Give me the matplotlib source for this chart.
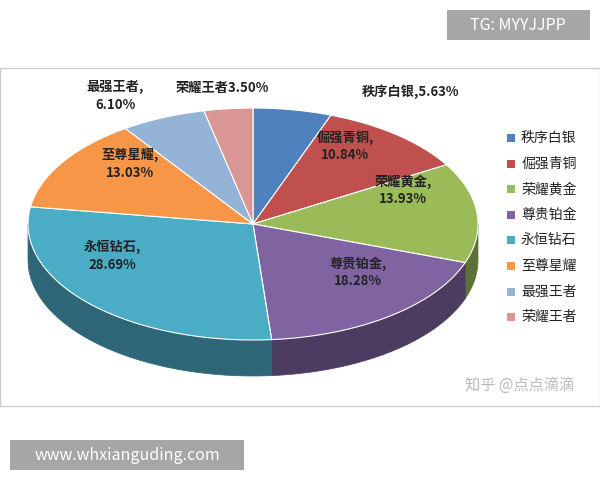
import numpy as np
import matplotlib
matplotlib.use("Agg")
import matplotlib.pyplot as plt
from matplotlib.patches import Polygon, Rectangle
import matplotlib.colors as mc

plt.rcParams['font.family'] = ['Noto Sans CJK SC', 'DejaVu Sans']

categories = ["秩序白银", "倔强青铜", "荣耀黄金", "尊贵铂金", "永恒钻石", "至尊星耀", "最强王者", "荣耀王者"]
values = [5.63, 10.84, 13.93, 18.28, 28.69, 13.03, 6.10, 3.50]
colors = ["#4F81BD", "#C0504D", "#9BBB59", "#8064A2", "#4BACC6", "#F79646", "#95B3D7", "#DA9694"]

fig = plt.figure(figsize=(6, 4.8), dpi=100)
ax = fig.add_axes([0, 0, 1, 1])
ax.set_xlim(0, 600); ax.set_ylim(480, 0); ax.axis('off')

ax.add_patch(Rectangle((0, 68), 600, 338, facecolor='white', edgecolor='#cccccc', lw=1))

cx, cy, rx, ry, depth = 253, 224, 225, 116, 36
def pt(th, dy=0):
    return cx + rx*np.sin(th), cy - ry*np.cos(th) + dy

bounds = np.concatenate([[0], np.cumsum(values)]) / sum(values) * 2*np.pi
# sides
for i in range(len(values)):
    a0, a1 = max(bounds[i], np.pi/2), min(bounds[i+1], 3*np.pi/2)
    if a1 <= a0:
        continue
    th = np.linspace(a0, a1, 80)
    top = [pt(t) for t in th]
    bot = [pt(t, depth) for t in th[::-1]]
    dark = tuple(np.array(mc.to_rgb(colors[i])) * 0.6)
    ax.add_patch(Polygon(top + bot, closed=True, facecolor=dark, edgecolor=dark, lw=0.5))
# tops
for i in range(len(values)):
    th = np.linspace(bounds[i], bounds[i+1], 120)
    poly = [(cx, cy)] + [pt(t) for t in th]
    ax.add_patch(Polygon(poly, closed=True, facecolor=colors[i], edgecolor='white', lw=0.8))

labels = [("秩序白银,5.63%", 362, 92, 'left'), ("倔强青铜,\n10.84%", 345, 146, 'center'),
          ("荣耀黄金,\n13.93%", 403, 190, 'center'), ("尊贵铂金,\n18.28%", 358, 272, 'center'),
          ("永恒钻石,\n28.69%", 112, 256, 'center'), ("至尊星耀,\n13.03%", 130, 164, 'center'),
          ("最强王者,\n6.10%", 115, 96, 'center'), ("荣耀王者3.50%", 176, 88, 'left')]
for t, x, y, ha in labels:
    ax.text(x, y, t, ha=ha, va='center', fontsize=9.5, fontweight='bold', linespacing=1.3, color='#222222')

for i, c in enumerate(categories):
    y = 138 + i*25.6
    ax.add_patch(Rectangle((507, y-4), 8, 8, facecolor=colors[i]))
    ax.text(521, y, c, va='center', fontsize=10, color='#222222')

ax.add_patch(Rectangle((447, 10), 143, 30, facecolor='#a6a6a6'))
ax.text(518, 25, "TG: MYYJJPP", ha='center', va='center', color='white', fontsize=11.5)
ax.add_patch(Rectangle((10, 440), 234, 30, facecolor='#a6a6a6'))
ax.text(127, 455, "www.whxianguding.com", ha='center', va='center', color='white', fontsize=11.5)
ax.text(520, 385, "知乎 @点点滴滴", ha='center', va='center', color='#bbbbbb', fontsize=11)

fig.savefig("out.png", dpi=100)
